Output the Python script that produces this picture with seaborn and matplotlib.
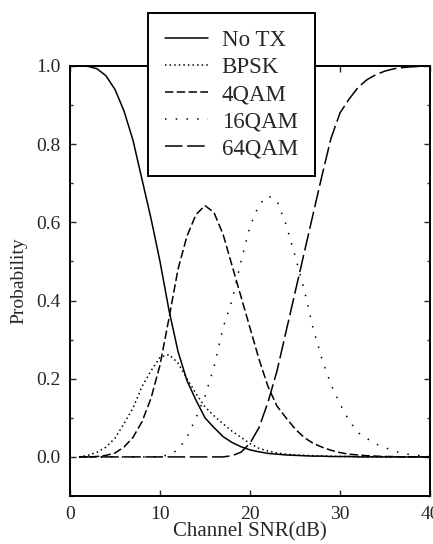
import numpy as np
import pandas as pd
import matplotlib
matplotlib.use("Agg")
import matplotlib.pyplot as plt
import seaborn as sns
from matplotlib.ticker import MultipleLocator

snr = list(range(1, 41))
no_tx = [1.000, 0.999, 0.993, 0.975, 0.940, 0.885, 0.810, 0.710, 0.610, 0.500,
         0.375, 0.270, 0.195, 0.145, 0.100, 0.075, 0.052, 0.037, 0.026, 0.018,
         0.013, 0.009, 0.007, 0.005, 0.004, 0.003, 0.002, 0.002, 0.001, 0.001,
         0.001, 0.000, 0.000, 0.000, 0.000, 0.000, 0.000, 0.000, 0.000, 0.000]
bpsk = [0.000, 0.004, 0.012, 0.025, 0.048, 0.085, 0.125, 0.180, 0.220, 0.255,
        0.262, 0.240, 0.200, 0.162, 0.128, 0.105, 0.085, 0.066, 0.050, 0.034,
        0.022, 0.015, 0.010, 0.007, 0.005, 0.004, 0.003, 0.002, 0.002, 0.001,
        0.001, 0.001, 0.000, 0.000, 0.000, 0.000, 0.000, 0.000, 0.000, 0.000]
qam4 = [0.000, 0.000, 0.001, 0.004, 0.010, 0.025, 0.050, 0.090, 0.150, 0.235,
        0.355, 0.480, 0.565, 0.620, 0.643, 0.625, 0.570, 0.490, 0.410, 0.330,
        0.250, 0.180, 0.130, 0.100, 0.072, 0.050, 0.035, 0.025, 0.017, 0.011,
        0.007, 0.005, 0.003, 0.002, 0.001, 0.001, 0.000, 0.000, 0.000, 0.000]
qam16 = [0.000, 0.000, 0.000, 0.000, 0.000, 0.000, 0.000, 0.000, 0.000, 0.001,
         0.005, 0.018, 0.050, 0.100, 0.155, 0.230, 0.330, 0.400, 0.500, 0.590,
         0.645, 0.668, 0.655, 0.595, 0.515, 0.430, 0.330, 0.250, 0.185, 0.135,
         0.093, 0.062, 0.047, 0.033, 0.024, 0.015, 0.009, 0.005, 0.003, 0.002]
qam64 = [0.000, 0.000, 0.000, 0.000, 0.000, 0.000, 0.000, 0.000, 0.000, 0.000,
         0.000, 0.000, 0.000, 0.000, 0.000, 0.000, 0.000, 0.003, 0.012, 0.035,
         0.075, 0.140, 0.220, 0.320, 0.420, 0.520, 0.620, 0.720, 0.815, 0.880,
         0.915, 0.945, 0.965, 0.978, 0.987, 0.993, 0.996, 0.998, 0.999, 1.000]

labels = ["No TX", "BPSK", "4QAM", "16QAM", "64QAM"]
series = [no_tx, bpsk, qam4, qam16, qam64]
dash_styles = [None, (1, 2), (5.5, 2.2), (1, 6), (11.5, 3)]

sns.set_style("ticks")
plt.rcParams["font.family"] = ["Liberation Serif", "DejaVu Serif"]

fig = plt.figure(figsize=(4.33, 5.44), dpi=100)
ax = fig.add_axes([70 / 433, 48 / 544, 360 / 433, 430 / 544])

for lab, ys, ds in zip(labels, series, dash_styles):
    df = pd.DataFrame({"snr": snr, "p": ys})
    sns.lineplot(data=df, x="snr", y="p", ax=ax, color="black", lw=1.1,
                 label=lab, legend=False)
    line = ax.get_lines()[-1]
    if ds is not None:
        line.set_dashes(ds)

ax.set_xlim(0, 40)
ax.set_ylim(-0.1, 1.0)
ax.set_xticks([0, 10, 20, 30, 40])
ax.set_yticks([0.0, 0.2, 0.4, 0.6, 0.8, 1.0])
ax.set_yticklabels(["0.0", "0.2", "0.4", "0.6", "0.8", "1.0"])
ax.yaxis.set_minor_locator(MultipleLocator(0.1))
ax.tick_params(which="both", direction="in", top=True, right=True,
               labelsize=14, width=1.0)
ax.tick_params(axis="x", pad=7)
ax.tick_params(axis="y", pad=7)
ax.tick_params(which="major", length=4)
ax.tick_params(which="minor", length=2)
for s in ax.spines.values():
    s.set_visible(True)
    s.set_linewidth(1.4)
    s.set_color("black")

ax.set_xlabel("Channel SNR(dB)", fontsize=15, labelpad=0)
ax.set_ylabel("Probability", fontsize=14, labelpad=6)

handles = ax.get_lines()
leg = ax.legend(handles, labels, loc="upper left",
                bbox_to_anchor=(148 / 433, 1 - 13 / 544),
                bbox_transform=fig.transFigure, borderaxespad=0,
                fontsize=16.5, frameon=True, fancybox=False, shadow=False,
                framealpha=1, edgecolor="black", facecolor="white",
                handlelength=1.9, handletextpad=0.6, labelspacing=0.27,
                borderpad=0.72)
leg.get_frame().set_linewidth(1.4)
leg.set_zorder(10)

fig.savefig("out.png", dpi=100)
